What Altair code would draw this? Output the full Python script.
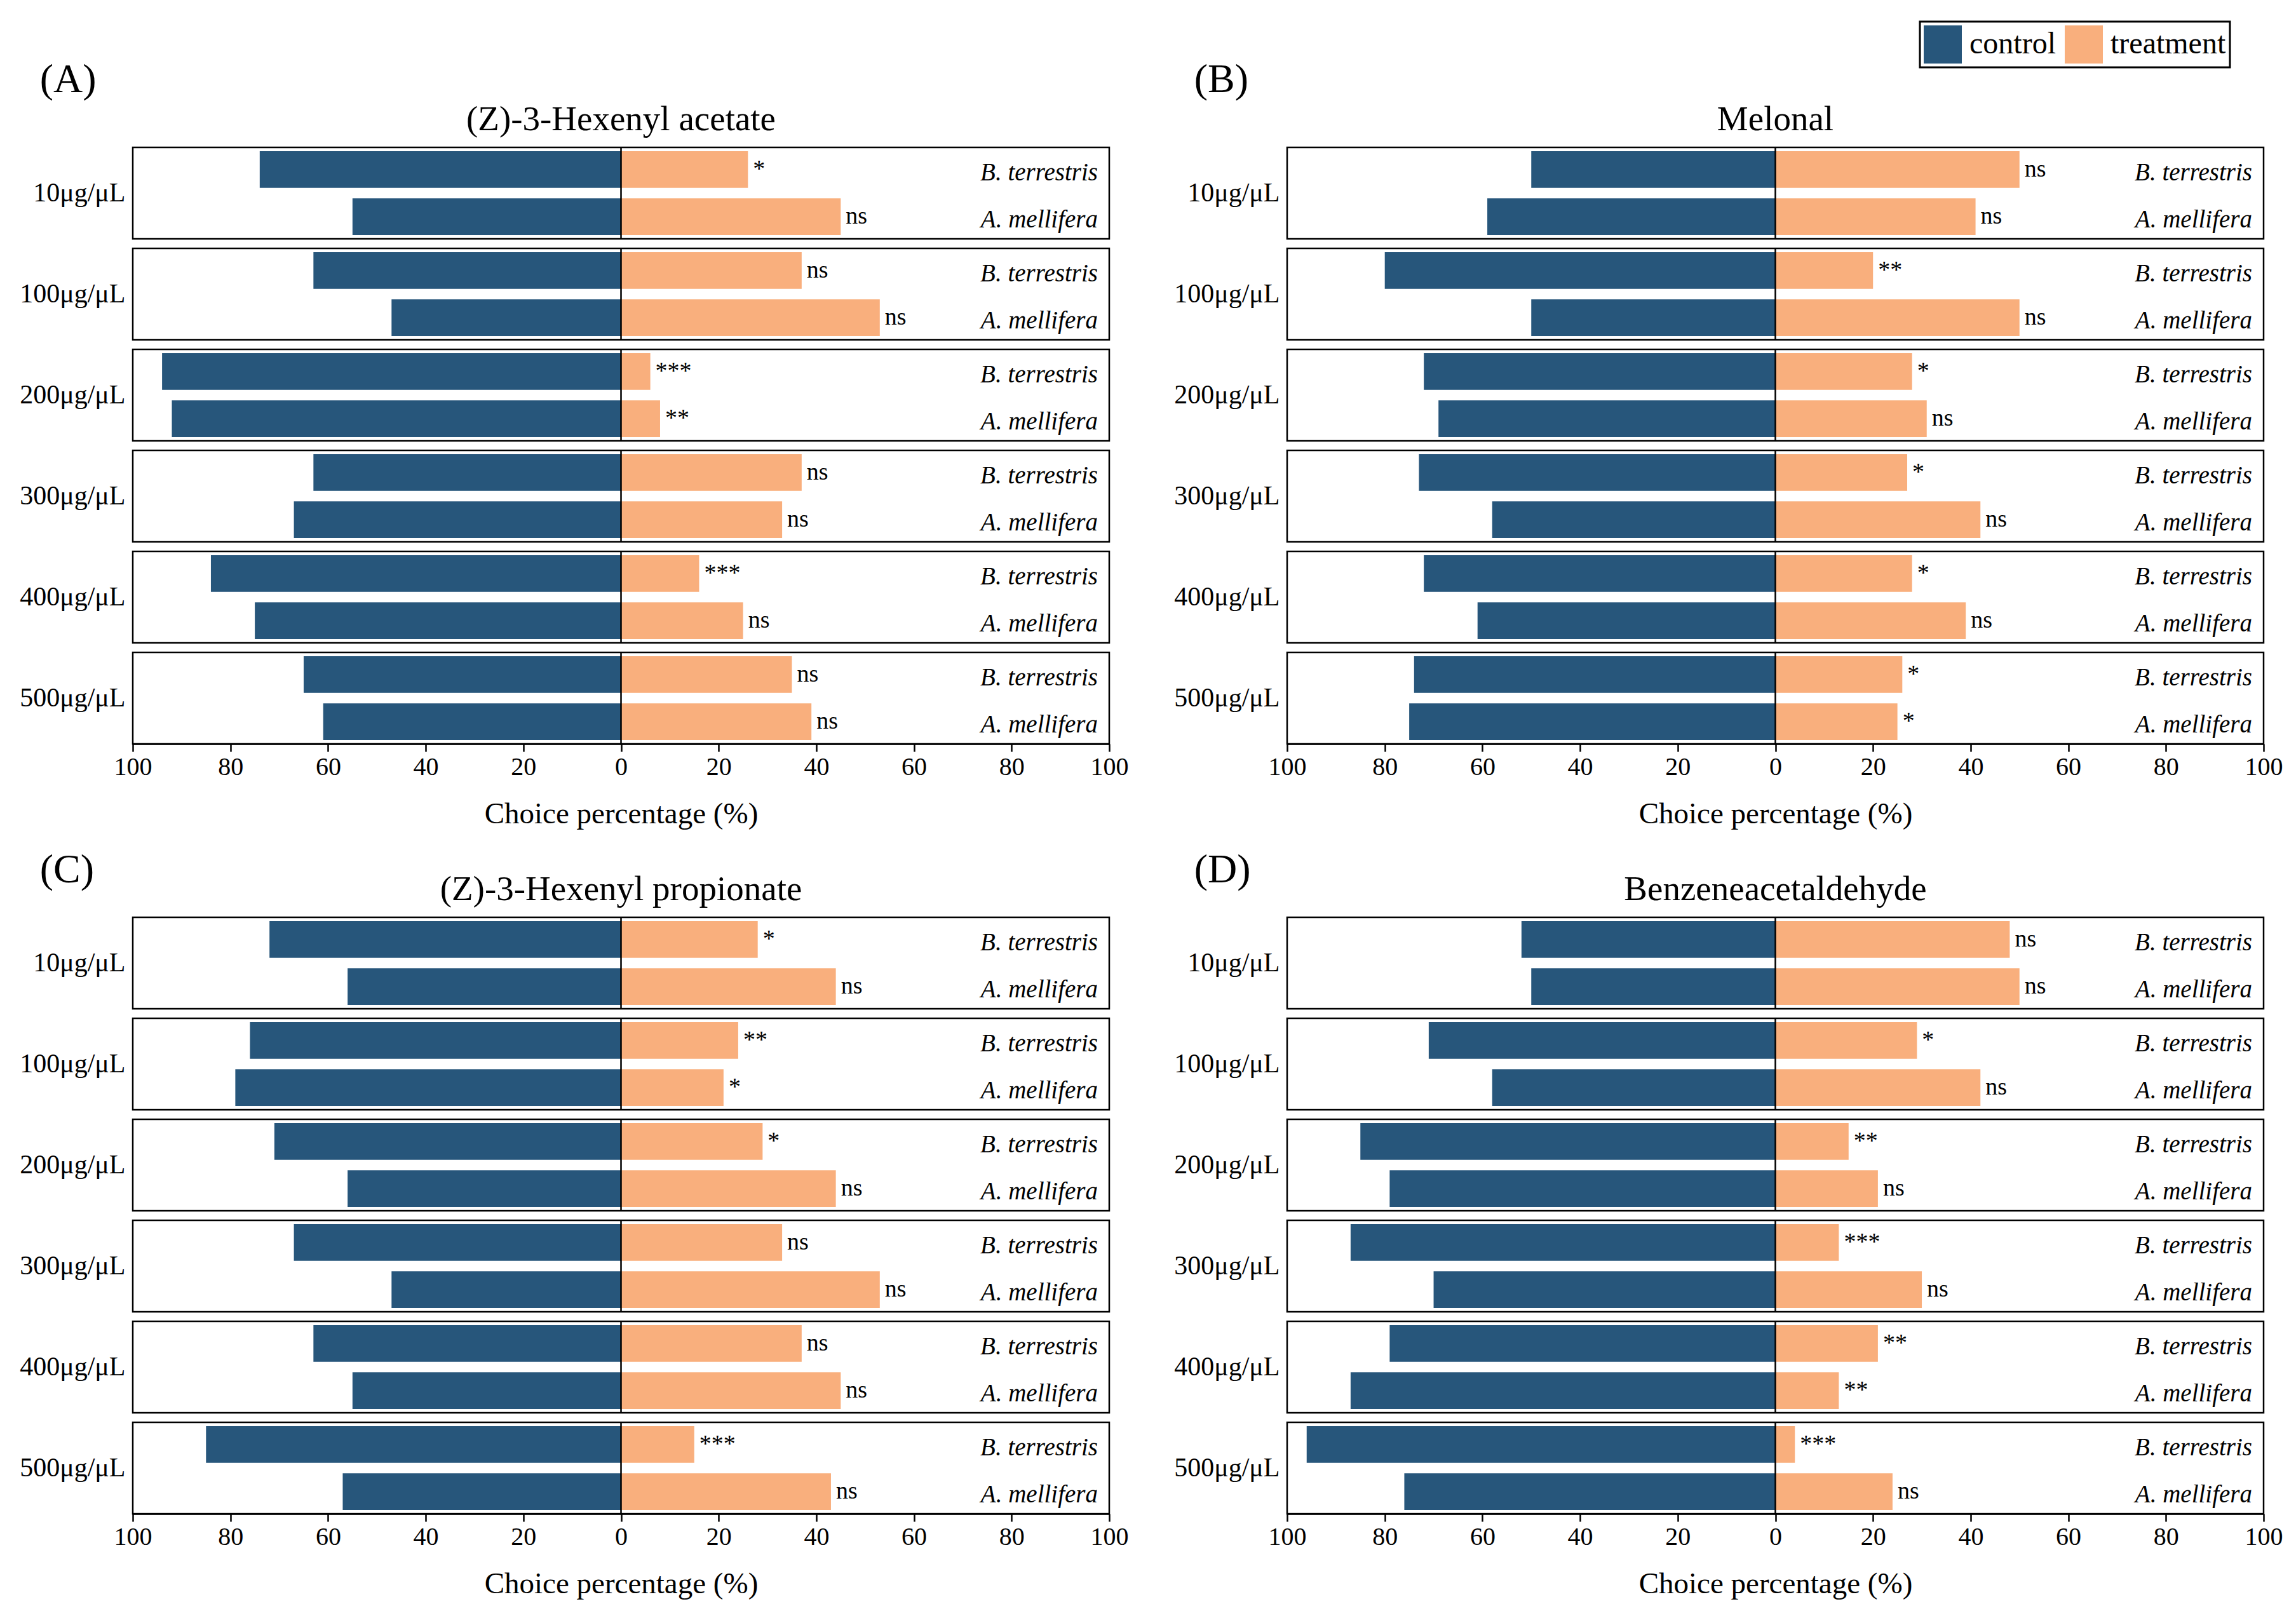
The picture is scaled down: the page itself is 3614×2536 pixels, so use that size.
import altair as alt
import pandas as pd

FONT = "Liberation Serif"

concs = ["10μg/μL", "100μg/μL", "200μg/μL", "300μg/μL", "400μg/μL", "500μg/μL"]
species = ["B. terrestris", "A. mellifera"]
groups = ["control", "treatment"]
titles = ["(Z)-3-Hexenyl acetate", "Melonal", "(Z)-3-Hexenyl propionate", "Benzeneacetaldehyde"]
letters = ["(A)", "(B)", "(C)", "(D)"]

# (A) (Z)-3-Hexenyl acetate
A_bt_control = [74, 63, 94, 63, 84, 65]
A_bt_treat = [26, 37, 6, 37, 16, 35]
A_bt_sig = ["*", "ns", "***", "ns", "***", "ns"]
A_am_control = [55, 47, 92, 67, 75, 61]
A_am_treat = [45, 53, 8, 33, 25, 39]
A_am_sig = ["ns", "ns", "**", "ns", "ns", "ns"]

# (B) Melonal
B_bt_control = [50, 80, 72, 73, 72, 74]
B_bt_treat = [50, 20, 28, 27, 28, 26]
B_bt_sig = ["ns", "**", "*", "*", "*", "*"]
B_am_control = [59, 50, 69, 58, 61, 75]
B_am_treat = [41, 50, 31, 42, 39, 25]
B_am_sig = ["ns", "ns", "ns", "ns", "ns", "*"]

# (C) (Z)-3-Hexenyl propionate
C_bt_control = [72, 76, 71, 67, 63, 85]
C_bt_treat = [28, 24, 29, 33, 37, 15]
C_bt_sig = ["*", "**", "*", "ns", "ns", "***"]
C_am_control = [56, 79, 56, 47, 55, 57]
C_am_treat = [44, 21, 44, 53, 45, 43]
C_am_sig = ["ns", "*", "ns", "ns", "ns", "ns"]

# (D) Benzeneacetaldehyde
D_bt_control = [52, 71, 85, 87, 79, 96]
D_bt_treat = [48, 29, 15, 13, 21, 4]
D_bt_sig = ["ns", "*", "**", "***", "**", "***"]
D_am_control = [50, 58, 79, 70, 87, 76]
D_am_treat = [50, 42, 21, 30, 13, 24]
D_am_sig = ["ns", "ns", "ns", "ns", "**", "ns"]

panels = [
    (A_bt_control, A_bt_treat, A_bt_sig, A_am_control, A_am_treat, A_am_sig),
    (B_bt_control, B_bt_treat, B_bt_sig, B_am_control, B_am_treat, B_am_sig),
    (C_bt_control, C_bt_treat, C_bt_sig, C_am_control, C_am_treat, C_am_sig),
    (D_bt_control, D_bt_treat, D_bt_sig, D_am_control, D_am_treat, D_am_sig),
]

W = 1537
H = 939
COLORS = ["#27567B", "#F9AF7D"]


def make_df(p):
    btc, btt, bts, amc, amt, ams = p
    rows = []
    for i, c in enumerate(concs):
        for sp, ctl, trt, sig in ((species[0], btc, btt, bts), (species[1], amc, amt, ams)):
            rows.append({"conc": c, "species": sp, "group": "control", "value": -ctl[i], "sig": ""})
            rows.append({"conc": c, "species": sp, "group": "treatment", "value": trt[i], "sig": sig[i]})
    return pd.DataFrame(rows)


def make_panel(idx):
    df = make_df(panels[idx])
    base = alt.Chart(df)
    xscale = alt.Scale(domain=[-100, 100], nice=False)
    x = alt.X(
        "value:Q", scale=xscale,
        axis=alt.Axis(values=list(range(-100, 101, 20)), labelExpr="abs(datum.value)",
                      title="Choice percentage (%)", labelFlush=False,
                      labelFont=FONT, titleFont=FONT),
    )
    y = alt.Y("conc:N", sort=concs, title=None,
              scale=alt.Scale(paddingInner=0.094, paddingOuter=0),
              axis=alt.Axis(ticks=False, domain=False, labelFontSize=42, labelPadding=12,
                            labelLimit=0, labelFont=FONT))
    yo = alt.YOffset("species:N", sort=species,
                     scale=alt.Scale(paddingInner=0.22, paddingOuter=0.08))

    frames = base.transform_filter(
        (alt.datum.group == "treatment") & (alt.datum.species == species[0])
    ).mark_rect(fill="white", stroke="black", strokeWidth=2.5).encode(
        x=alt.datum(-100, scale=xscale), x2=alt.datum(100), y=y
    )
    bars = base.mark_bar().encode(
        x=x, y=y, yOffset=yo,
        color=alt.Color(
            "group:N",
            scale=alt.Scale(domain=groups, range=COLORS),
            legend=alt.Legend(
                title=None, orient="none", legendX=2813, legendY=-198, direction="horizontal",
                symbolType="square", symbolSize=3600, symbolStrokeWidth=0, symbolOpacity=1,
                labelFontSize=48, labelFont=FONT, labelColor="black", strokeColor="black",
                padding=6, columnPadding=14, labelOffset=12, labelLimit=0,
            ),
        ),
    )
    zero = base.transform_filter(
        (alt.datum.group == "treatment") & (alt.datum.species == species[0])
    ).mark_rect(fill="black", stroke="black", strokeWidth=2.5).encode(
        x=alt.datum(0), x2=alt.datum(0), y=y
    )
    sig = base.transform_filter(alt.datum.group == "treatment").mark_text(
        align="left", baseline="middle", dx=8, font=FONT, fontSize=38, color="black"
    ).encode(x=alt.X("value:Q"), y=y, yOffset=yo, text="sig:N")
    sp = base.transform_filter(alt.datum.group == "treatment").mark_text(
        align="right", baseline="middle", dy=5, font=FONT, fontSize=39, fontStyle="italic", color="black"
    ).encode(x=alt.value(W - 18), y=y, yOffset=yo, text="species:N")

    view = alt.layer(frames, bars, zero, sig, sp).properties(
        width=W, height=H,
        title=alt.TitleParams(titles[idx], fontSize=55, font=FONT, fontWeight="normal",
                              color="black", anchor="middle", frame="group", offset=14),
    )
    ttl = alt.TitleParams(letters[idx], fontSize=64, font=FONT, fontWeight="normal",
                          color="black", anchor="start", dx=32,
                          offset=3 if idx < 2 else -29)
    return alt.vconcat(view, title=ttl)


row1 = alt.hconcat(make_panel(0), make_panel(1), spacing=71)
row2 = alt.hconcat(make_panel(2), make_panel(3), spacing=71)

chart = alt.vconcat(row1, row2, spacing=33).properties(
    padding={"left": 22, "top": 24, "right": 5, "bottom": 5},
    background="white",
).configure_view(
    strokeWidth=0
).configure_axis(
    grid=False, domainColor="black", domainWidth=2.5, tickColor="black", tickWidth=2.5,
    tickSize=12, labelFont=FONT, labelFontSize=40, labelColor="black", labelPadding=4,
    titleFont=FONT, titleFontSize=47, titleFontWeight="normal", titleColor="black", titlePadding=31,
).configure_legend(
    strokeWidth=3
)

chart.save("out.html", embed_options={"renderer": "svg", "actions": False})
